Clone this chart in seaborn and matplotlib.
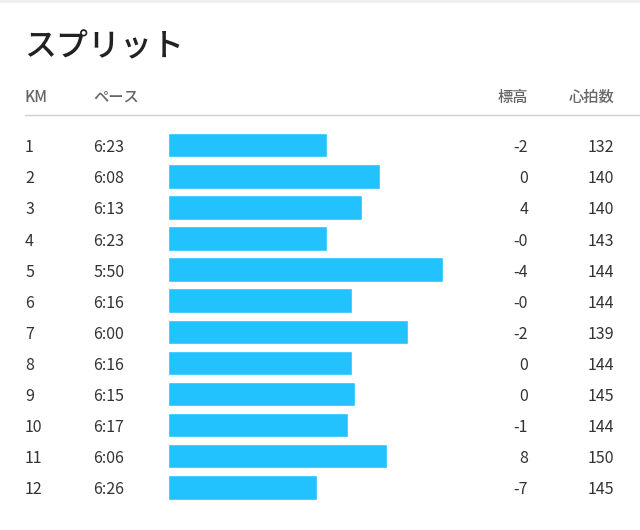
import matplotlib
matplotlib.use("Agg")
import matplotlib.pyplot as plt
import matplotlib.transforms as mtransforms
import seaborn as sns
import pandas as pd

# スプリットのデータ
km = [1, 2, 3, 4, 5, 6, 7, 8, 9, 10, 11, 12]
pace = ["6:23", "6:08", "6:13", "6:23", "5:50", "6:16", "6:00", "6:16", "6:15", "6:17", "6:06", "6:26"]
elevation = ["-2", "0", "4", "-0", "-4", "-0", "-2", "0", "0", "-1", "8", "-7"]
heart_rate = [132, 140, 140, 143, 144, 144, 139, 144, 145, 144, 150, 145]

# バーの長さ = 基準ペース(秒) - ペース(秒)
base_sec = 428.5
pace_sec = [int(p.split(":")[0]) * 60 + int(p.split(":")[1]) for p in pace]
df = pd.DataFrame({"km": [str(k) for k in km], "bar": [base_sec - s for s in pace_sec]})

sns.set_theme(style="white")
plt.rcParams['font.family'] = ['Noto Sans CJK JP', 'DejaVu Sans']

W, H = 640, 530
fig = plt.figure(figsize=(W / 100, H / 100), dpi=100)

# バーの軸: 1行 = 31.1px
row0, pitch = 145.2, 31.1
top = row0 - pitch / 2
bottom = row0 + pitch * 11 + pitch / 2
x0 = 168
ax = fig.add_axes([x0 / W, 1 - bottom / H, (W - x0) / W, (bottom - top) / H])
sns.barplot(data=df, y="km", x="bar", order=df["km"], color="#22c1ff",
            saturation=1, width=0.79, ax=ax)
ax.set_xlim(0, (W - x0) / 3.5)
ax.set_ylim(11.5, -0.5)
ax.axis("off")

# テキスト
fx = lambda px: px / W
fy = lambda py: 1 - py / H
trans = mtransforms.blended_transform_factory(fig.transFigure, ax.transData)
trans = trans + mtransforms.ScaledTranslation(0, -2.5 / 100, fig.dpi_scale_trans)

fig.text(fx(24), fy(47), "スプリット", fontsize=23, fontweight="medium", color="#222222", va="center")

hdr = dict(fontsize=11, color="#666666", va="center", fontweight="medium")
fig.text(fx(25), fy(97), "KM", **hdr)
fig.text(fx(93), fy(97), "ペース", **hdr)
fig.text(fx(528), fy(97), "標高", ha="right", **hdr)
fig.text(fx(614), fy(97), "心拍数", ha="right", **hdr)

fig.add_artist(plt.Line2D([fx(25), 1], [fy(114.5), fy(114.5)], color="#d0d0d0", lw=1))
fig.add_artist(plt.Rectangle((0, fy(2.5)), 1, 2.5 / H, color="#eeeeee", lw=0))

row = dict(fontsize=11.5, color="#333333", va="center", transform=trans)
for i in range(len(km)):
    ax.text(fx(25), i, str(km[i]), **row)
    ax.text(fx(93), i, pace[i], **row)
    ax.text(fx(528), i, elevation[i], ha="right", **row)
    ax.text(fx(614), i, str(heart_rate[i]), ha="right", **row)

fig.savefig("out.png", dpi=100)
